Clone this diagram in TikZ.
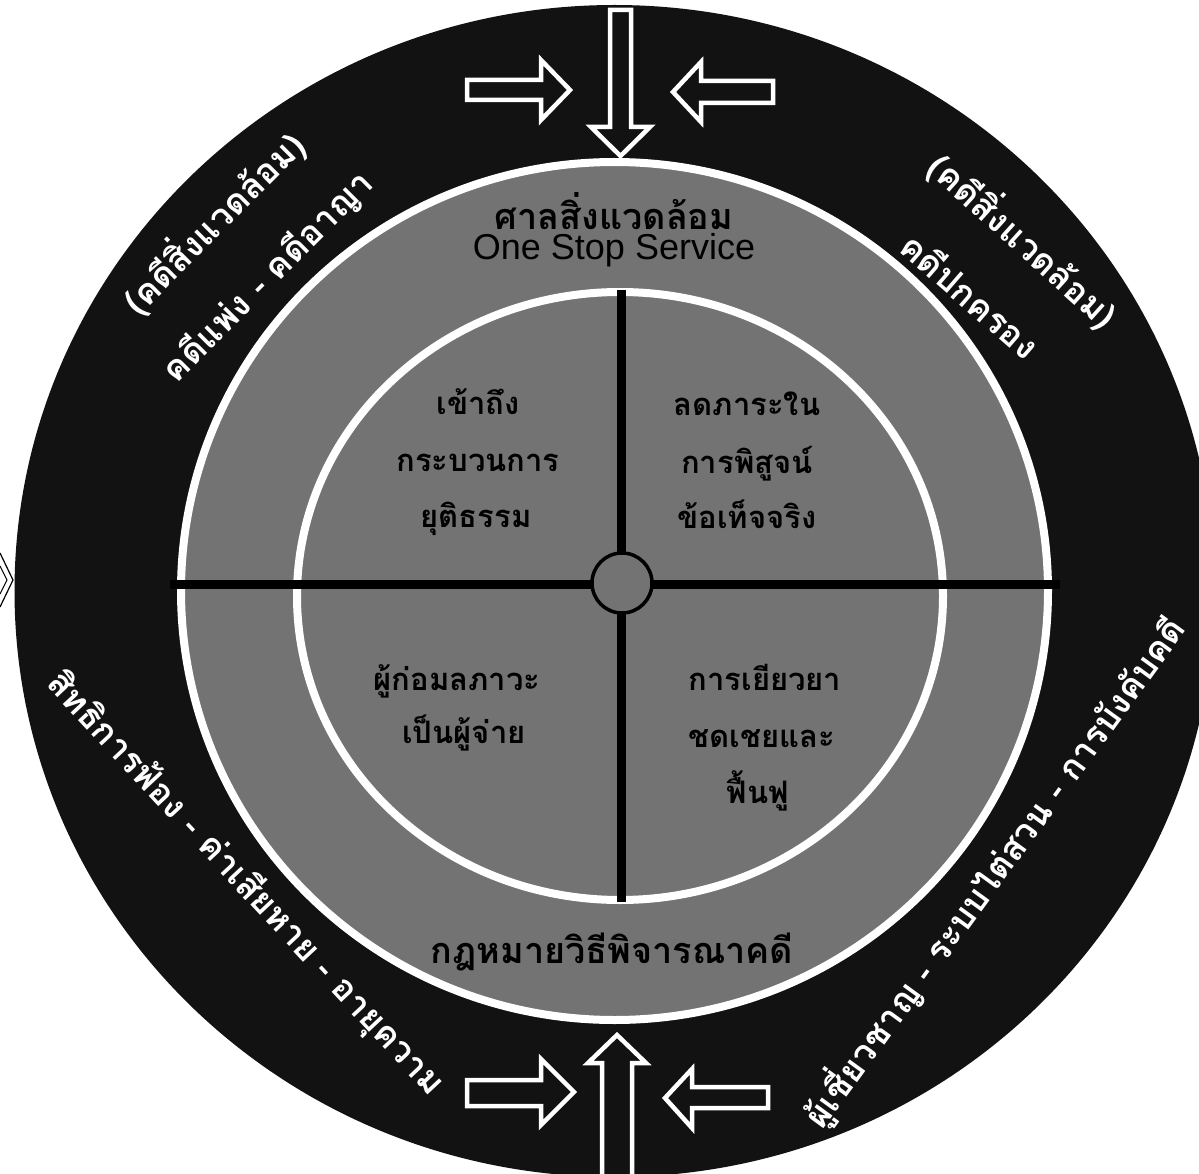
\documentclass[tikz,border=0pt]{standalone}
\usepackage{fontspec}
\newfontfamily\thaifont[Script=Thai]{Loma}
\newfontfamily\engfont{Liberation Sans}
\definecolor{ringblack}{HTML}{121212}
\definecolor{midgrey}{HTML}{737373}
\tikzset{
  outertext/.style={text=white, font=\thaifont\bfseries\fontsize{35}{40}\selectfont, inner sep=0pt},
  quadtext/.style={text=black, font=\thaifont\bfseries\fontsize{31}{36}\selectfont, inner sep=0pt, anchor=base},
  ringtext/.style={text=black, font=\thaifont\bfseries\fontsize{36}{40}\selectfont, inner sep=0pt, anchor=base},
  engtext/.style={text=black, font=\engfont\fontsize{36}{40}\selectfont, inner sep=0pt, anchor=base},
  blockarrow/.style={draw=white, line width=4.5pt, fill=ringblack, line join=miter},
  whiteline/.style={draw=white, line width=8pt},
  crossline/.style={draw=black, line width=9pt},
  hub/.style={circle, draw=black, line width=3.5pt, fill=midgrey, minimum size=60pt, inner sep=0pt}
}
\begin{document}
\begin{tikzpicture}[x=1pt,y=-1pt]
\useasboundingbox (0,0) rectangle (1199,1174);
\clip (0,0) rectangle (1199,1174);
\fill[white] (0,0) rectangle (1199,1174);
% rings
\coordinate (C) at (614.5,591);
\coordinate (CI) at (620,596);
\fill[ringblack] (C) ellipse[x radius=600, y radius=586];
\fill[midgrey] (C) ellipse[x radius=433.5, y radius=429];
\draw[whiteline] (C) ellipse[x radius=433.5, y radius=429];
\draw[whiteline] (CI) ellipse[x radius=323, y radius=304];
% cross
\coordinate (hl) at (170,584);
\coordinate (hr) at (1060,584);
\coordinate (vt) at (621,290);
\coordinate (vb) at (621,902);
\draw[crossline] (hl) -- (hr);
\draw[crossline] (vt) -- (vb);
\node[hub] (hubc) at (622,583) {};
% block arrows
\draw[blockarrow] (610,10) -- (631,10) -- (631,127) -- (650,127) -- (620.5,156) -- (591,127) -- (610,127) -- cycle;
\draw[blockarrow] (467,80) -- (541,80) -- (541,60) -- (570,90) -- (541,120) -- (541,100) -- (467,100) -- cycle;
\draw[blockarrow] (673,92) -- (701,62) -- (701,81) -- (773,81) -- (773,103) -- (701,103) -- (701,122) -- cycle;
\draw[blockarrow] (617,1035) -- (646,1063) -- (632,1063) -- (632,1180) -- (602,1180) -- (602,1063) -- (588,1063) -- cycle;
\draw[blockarrow] (467,1080) -- (541,1080) -- (541,1059) -- (574,1092) -- (541,1125) -- (541,1106) -- (467,1106) -- cycle;
\draw[blockarrow] (665,1098) -- (692,1069) -- (692,1087) -- (768,1087) -- (768,1108) -- (692,1108) -- (692,1128) -- cycle;
% small chevron at left edge
\draw[black, line width=1.2pt, fill=white] (0,553) -- (13,580) -- (0,607);
\draw[black, line width=1pt] (0,566) -- (7,580) -- (0,594);
% middle ring texts
\node[ringtext] (court) at (614,230) {ศาลสิ่งแวดล้อม};
\node[engtext] (oss) at (614,260) {One Stop Service};
\node[ringtext] (proc) at (612,963) {กฎหมายวิธีพิจารณาคดี};
% quadrant texts
\node[quadtext] (q1a) at (478,414) {เข้าถึง};
\node[quadtext] (q1b) at (478,471) {กระบวนการ};
\node[quadtext] (q1c) at (476,527) {ยุติธรรม};
\node[quadtext] (q2a) at (747,415) {ลดภาระใน};
\node[quadtext] (q2b) at (747,473) {การพิสูจน์};
\node[quadtext] (q2c) at (747,528) {ข้อเท็จจริง};
\node[quadtext] (q3a) at (457,690) {ผู้ก่อมลภาวะ};
\node[quadtext] (q3b) at (464,743) {เป็นผู้จ่าย};
\node[quadtext] (q4a) at (765,690) {การเยียวยา};
\node[quadtext] (q4b) at (762,747) {ชดเชยและ};
\node[quadtext] (q4c) at (758,803) {ฟื้นฟู};
% outer ring texts
\node[outertext, rotate=45] (tl1) at (213,222) {(คดีสิ่งแวดล้อม)};
\node[outertext, rotate=45] (tl2) at (268,277) {คดีแพ่ง - คดีอาญา};
\node[outertext, rotate=-42] (tr1) at (1024,240) {(คดีสิ่งแวดล้อม)};
\node[outertext, rotate=-41] (tr2) at (971,295) {คดีปกครอง};
\node[outertext, rotate=-47] (bl) at (245,884) {สิทธิการฟ้อง - ค่าเสียหาย - อายุความ};
\node[outertext, rotate=54] (br) at (994,872) {ผู้เชี่ยวชาญ - ระบบไต่สวน - การบังคับคดี};
\end{tikzpicture}
\end{document}
